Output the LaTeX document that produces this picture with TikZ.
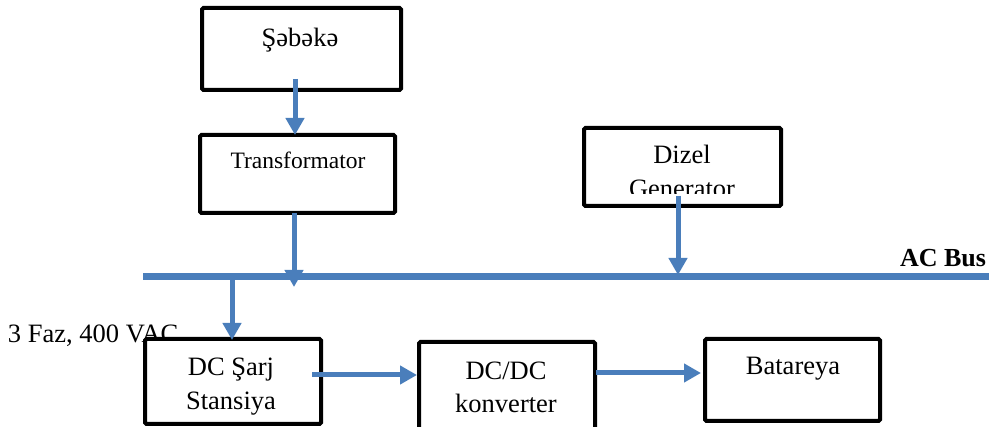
\documentclass[tikz,border=0pt]{standalone}
\usepackage{fontspec}
\setmainfont{Liberation Serif}
\usetikzlibrary{arrows.meta}
\definecolor{busblue}{HTML}{4A7EBB}
\begin{document}
\begin{tikzpicture}[x=1pt,y=-1pt,
  box/.style={draw=black, line width=4pt, fill=white, rounded corners=1.5pt, inner sep=0pt, outer sep=0pt},
  lbl/.style={anchor=base, inner sep=0pt, outer sep=0pt, font=\fontsize{26.5}{30}\selectfont},
  arr/.style={draw=busblue, line width=5pt, -{Triangle[length=17pt,width=18pt]}},
  busline/.style={draw=busblue, line width=7pt}]
\useasboundingbox (0,0) rectangle (989,427);

% label under the charger box
\node[lbl, anchor=base west] (faz) at (8,343) {3 Faz, 400 VAC};

% boxes
\node[box, minimum width=199pt, minimum height=82pt] (sebeke) at (301.5,49) {};
\node[box, minimum width=195pt, minimum height=78pt] (trans) at (297.5,174) {};
\node[box, minimum width=197pt, minimum height=78pt] (dizel) at (682.5,167) {};
\node[box, minimum width=176pt, minimum height=85pt] (sarj) at (233,381.5) {};
\node[box, minimum width=176pt, minimum height=100pt] (dcdc) at (507,392) {};
\node[box, minimum width=175pt, minimum height=82pt] (bat) at (792.5,380) {};

% box texts
\node[lbl] (tsebeke) at (300,47) {Şəbəkə};
\node[lbl, font=\fontsize{23.5}{28}\selectfont] (ttrans) at (298,169) {Transformator};
\node[lbl] (tdizel) at (682,164) {Dizel};
\begin{scope}
  \clip (584,150) rectangle (781,194);
  \node[lbl] (tgen) at (682,198) {Generator};
\end{scope}
\node[lbl] (tsarj1) at (231,376) {DC Şarj};
\node[lbl] (tsarj2) at (231,410) {Stansiya};
\node[lbl] (tdcdc1) at (506,380) {DC/DC};
\node[lbl] (tdcdc2) at (506,413) {konverter};
\node[lbl] (tbat) at (793,375) {Batareya};

% AC bus
\coordinate (busL) at (143,277);
\coordinate (busR) at (989,277);
\draw[busline] (busL) -- (busR);
\node[lbl, anchor=base east, font=\fontsize{26}{30}\selectfont\bfseries] (acbus) at (986,267) {AC Bus};

% connectors
\coordinate (a1s) at (295,79);
\draw[arr] (a1s) -- (a1s |- trans.north);
\coordinate (a2e) at (294,287);
\draw[arr] (a2e |- trans.south) -- (a2e);
\coordinate (a3s) at (678,196);
\coordinate (a3e) at (678,275);
\draw[arr] (a3s) -- (a3e);
\coordinate (a4s) at (232,277);
\draw[arr] (a4s) -- ([yshift=-1pt]a4s |- sarj.north);
\coordinate (a5s) at (312,375);
\draw[arr] (a5s) -- ([xshift=-2pt]a5s -| dcdc.west);
\coordinate (a6s) at (596,373);
\draw[arr] (a6s) -- ([xshift=-4pt]a6s -| bat.west);
\end{tikzpicture}
\end{document}
